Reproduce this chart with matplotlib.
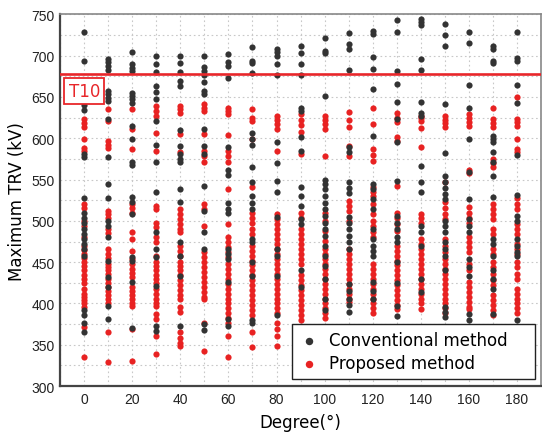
import numpy as np
import matplotlib
matplotlib.use("Agg")
import matplotlib.pyplot as plt
from matplotlib.ticker import MultipleLocator

# TRV values (kV), one list per degree column
# conventional method (black dots)
conv_0 = [728, 694, 640, 634, 581, 577, 528, 510, 504, 497, 490, 484, 478, 472, 466, 458, 392, 386, 376, 366]
conv_10 = [696, 692, 687, 683, 657, 653, 649, 645, 623, 577, 544, 528, 500, 494, 480, 451, 432, 420, 397, 381]
conv_20 = [704, 690, 685, 681, 655, 651, 647, 643, 615, 599, 571, 567, 529, 523, 508, 456, 451, 426, 370]
conv_30 = [700, 690, 680, 663, 656, 647, 621, 592, 571, 535, 486, 466, 456, 421, 373, 367]
conv_40 = [700, 691, 680, 669, 663, 610, 590, 581, 575, 571, 538, 523, 475, 457, 433, 373]
conv_50 = [699, 686, 681, 677, 668, 657, 653, 611, 590, 581, 542, 512, 486, 466, 375, 368]
conv_60 = [702, 692, 687, 673, 589, 562, 556, 522, 514, 510, 466, 460, 454, 426, 381, 373]
conv_70 = [710, 694, 691, 679, 606, 599, 592, 565, 547, 530, 522, 514, 478, 474, 450, 433, 380, 377]
conv_80 = [708, 704, 700, 690, 677, 596, 570, 548, 535, 505, 466, 457, 433, 386]
conv_90 = [711, 703, 690, 676, 637, 633, 602, 584, 541, 530, 518, 502, 496, 441, 420]
conv_100 = [721, 706, 703, 651, 550, 544, 538, 530, 522, 514, 506, 498, 490, 482, 470, 458, 445, 430, 405, 392]
conv_110 = [727, 714, 708, 682, 589, 583, 547, 540, 534, 505, 498, 490, 482, 474, 466, 423, 415, 405, 398, 390]
conv_120 = [730, 726, 698, 684, 660, 603, 544, 538, 526, 514, 490, 478, 470, 464, 457, 426, 415, 405]
conv_130 = [743, 728, 681, 666, 644, 623, 595, 548, 506, 498, 490, 480, 474, 450, 425, 397, 385]
conv_140 = [744, 741, 737, 696, 682, 644, 631, 627, 566, 547, 535, 494, 486, 470, 430, 414]
conv_150 = [738, 725, 711, 641, 582, 554, 547, 540, 532, 526, 500, 494, 486, 474, 466, 457, 440, 396, 390, 384]
conv_160 = [728, 715, 664, 636, 599, 559, 526, 502, 494, 486, 454, 444, 433, 387, 380]
conv_170 = [711, 708, 694, 691, 603, 599, 595, 583, 571, 554, 529, 478, 472, 457, 440, 430, 417, 387]
conv_180 = [729, 697, 693, 664, 642, 580, 531, 506, 500, 478, 470, 462, 457, 380]

# proposed method (red dots)
prop_0 = [623, 618, 613, 599, 588, 584, 520, 515, 500, 494, 480, 470, 465, 460, 455, 450, 445, 440, 435, 430,
          425, 418, 412, 408, 404, 400, 396, 372, 335]
prop_10 = [635, 621, 597, 592, 588, 512, 508, 504, 490, 485, 466, 460, 455, 448, 444, 440, 436, 430, 425, 420,
           415, 410, 405, 400, 365, 329]
prop_20 = [635, 611, 587, 520, 515, 510, 486, 478, 463, 454, 448, 442, 437, 432, 420, 415, 410, 405, 400, 397,
           369, 331]
prop_30 = [639, 633, 627, 606, 584, 518, 514, 498, 492, 480, 474, 457, 450, 445, 440, 435, 430, 425, 418, 412,
           405, 400, 397, 387, 381, 361, 339]
prop_40 = [639, 635, 631, 605, 583, 514, 508, 502, 496, 490, 486, 469, 463, 457, 450, 445, 440, 434, 428, 422,
           416, 410, 405, 396, 390, 365, 358, 352, 348]
prop_50 = [641, 637, 633, 605, 584, 578, 571, 520, 514, 494, 462, 456, 450, 444, 438, 432, 426, 420, 414, 408,
           405, 377, 342]
prop_60 = [637, 633, 629, 604, 584, 578, 571, 538, 496, 480, 474, 468, 462, 456, 448, 442, 436, 430, 424, 418,
           412, 406, 400, 394, 388, 382, 377, 361, 335]
prop_70 = [635, 625, 621, 599, 541, 510, 504, 498, 490, 484, 470, 464, 458, 452, 446, 440, 434, 428, 422, 416,
           410, 404, 398, 392, 386, 365, 347]
prop_80 = [627, 622, 617, 611, 584, 508, 502, 496, 490, 484, 478, 472, 466, 460, 454, 448, 442, 436, 430, 424,
           418, 412, 406, 400, 394, 388, 377, 369, 361, 349]
prop_90 = [629, 622, 616, 607, 581, 510, 504, 490, 484, 478, 472, 466, 460, 454, 448, 435, 428, 422, 416, 410,
           404, 398, 392, 386, 380]
prop_100 = [627, 622, 617, 611, 579, 510, 500, 488, 476, 466, 460, 454, 448, 442, 436, 430, 424, 418, 412, 406,
            400, 394, 388, 382]
prop_110 = [632, 622, 613, 590, 578, 524, 518, 512, 500, 466, 460, 454, 448, 442, 436, 430, 424, 418, 412, 406, 402]
prop_120 = [637, 617, 587, 580, 573, 541, 535, 530, 520, 508, 500, 494, 486, 480, 448, 442, 436, 430, 424, 418,
            412, 406, 400, 394, 388]
prop_130 = [631, 625, 619, 601, 597, 542, 510, 503, 496, 488, 470, 464, 458, 452, 446, 440, 434, 428, 422, 416,
            410, 404, 398, 393]
prop_140 = [627, 624, 621, 612, 589, 508, 503, 498, 478, 472, 466, 460, 454, 448, 442, 436, 430, 424, 418, 412,
            406, 400, 393]
prop_150 = [627, 622, 618, 613, 547, 523, 516, 508, 502, 478, 470, 462, 454, 448, 442, 436, 430, 424, 418, 412,
            406, 400, 394, 388]
prop_160 = [629, 625, 620, 615, 562, 558, 517, 510, 504, 498, 480, 474, 468, 462, 448, 440, 426, 420, 414, 408,
            402, 396, 393]
prop_170 = [637, 623, 618, 613, 575, 570, 565, 520, 514, 508, 502, 490, 484, 466, 460, 450, 444, 436, 428, 422,
            410, 404, 398, 392, 386]
prop_180 = [650, 623, 619, 615, 599, 587, 583, 528, 520, 514, 496, 490, 484, 472, 466, 460, 450, 444, 436, 430,
            417, 412, 406, 400, 394, 388]

degrees = [0, 10, 20, 30, 40, 50, 60, 70, 80, 90, 100, 110, 120, 130, 140, 150, 160, 170, 180]
conv_cols = [conv_0, conv_10, conv_20, conv_30, conv_40, conv_50, conv_60, conv_70, conv_80, conv_90,
             conv_100, conv_110, conv_120, conv_130, conv_140, conv_150, conv_160, conv_170, conv_180]
prop_cols = [prop_0, prop_10, prop_20, prop_30, prop_40, prop_50, prop_60, prop_70, prop_80, prop_90,
             prop_100, prop_110, prop_120, prop_130, prop_140, prop_150, prop_160, prop_170, prop_180]

t10_level = 678  # kV

# flatten into x/y arrays
conv_x = np.concatenate([[d] * len(c) for d, c in zip(degrees, conv_cols)])
conv_y = np.concatenate(conv_cols)
prop_x = np.concatenate([[d] * len(c) for d, c in zip(degrees, prop_cols)])
prop_y = np.concatenate(prop_cols)

fig = plt.figure(figsize=(5.42, 4.35), dpi=100)
ax = fig.add_axes([0.111, 0.110, 0.887, 0.855])

ax.scatter(prop_x, prop_y, s=20, color='#e82222', linewidths=0, zorder=3, label='Proposed method')
ax.scatter(conv_x, conv_y, s=20, color='#333333', linewidths=0, zorder=4, label='Conventional method')

ax.axhline(t10_level, color='#e8262a', lw=1.9, zorder=5)
ax.text(0, 657, 'T10', color='#e8262a', fontsize=12, ha='center', va='center', zorder=6,
        bbox=dict(boxstyle='square,pad=0.25', fc='white', ec='#e8262a', lw=1.3))

ax.set_xlim(-10, 190)
ax.set_ylim(300, 750)
ax.xaxis.set_major_locator(MultipleLocator(20))
ax.xaxis.set_minor_locator(MultipleLocator(10))
ax.yaxis.set_major_locator(MultipleLocator(50))
ax.yaxis.set_minor_locator(MultipleLocator(25))
ax.grid(True, which='both', color='#c8c8c8', linestyle=(0, (1.5, 2.5)), lw=0.8, zorder=0)
ax.set_axisbelow(True)
ax.tick_params(which='both', length=0, labelsize=10, pad=4)
for lab in ax.get_xticklabels() + ax.get_yticklabels():
    lab.set_fontfamily('Liberation Sans')
    lab.set_color('#222222')

for side in ['left', 'bottom']:
    ax.spines[side].set_color('#444444')
    ax.spines[side].set_linewidth(1.6)
for side in ['top', 'right']:
    ax.spines[side].set_color('#888888')
    ax.spines[side].set_linewidth(1.2)

ax.set_xlabel('Degree(°)', fontsize=12, labelpad=5)
ax.set_ylabel('Maximum TRV (kV)', fontsize=12, labelpad=4)

handles, labels = ax.get_legend_handles_labels()
# trailing spaces widen the box to the right like in the original
labels = [l + '    ' for l in labels]
leg = ax.legend(handles[::-1], labels[::-1], loc='lower right', bbox_to_anchor=(0.988, 0.02),
                borderaxespad=0, fontsize=12, frameon=True, fancybox=False, framealpha=1,
                edgecolor='#222222', markerscale=1.2, handletextpad=0.6, labelspacing=0.3,
                borderpad=0.4, handlelength=1.2)
leg.get_frame().set_linewidth(1.0)
leg.set_zorder(10)

plt.savefig('out.png', dpi=100)
